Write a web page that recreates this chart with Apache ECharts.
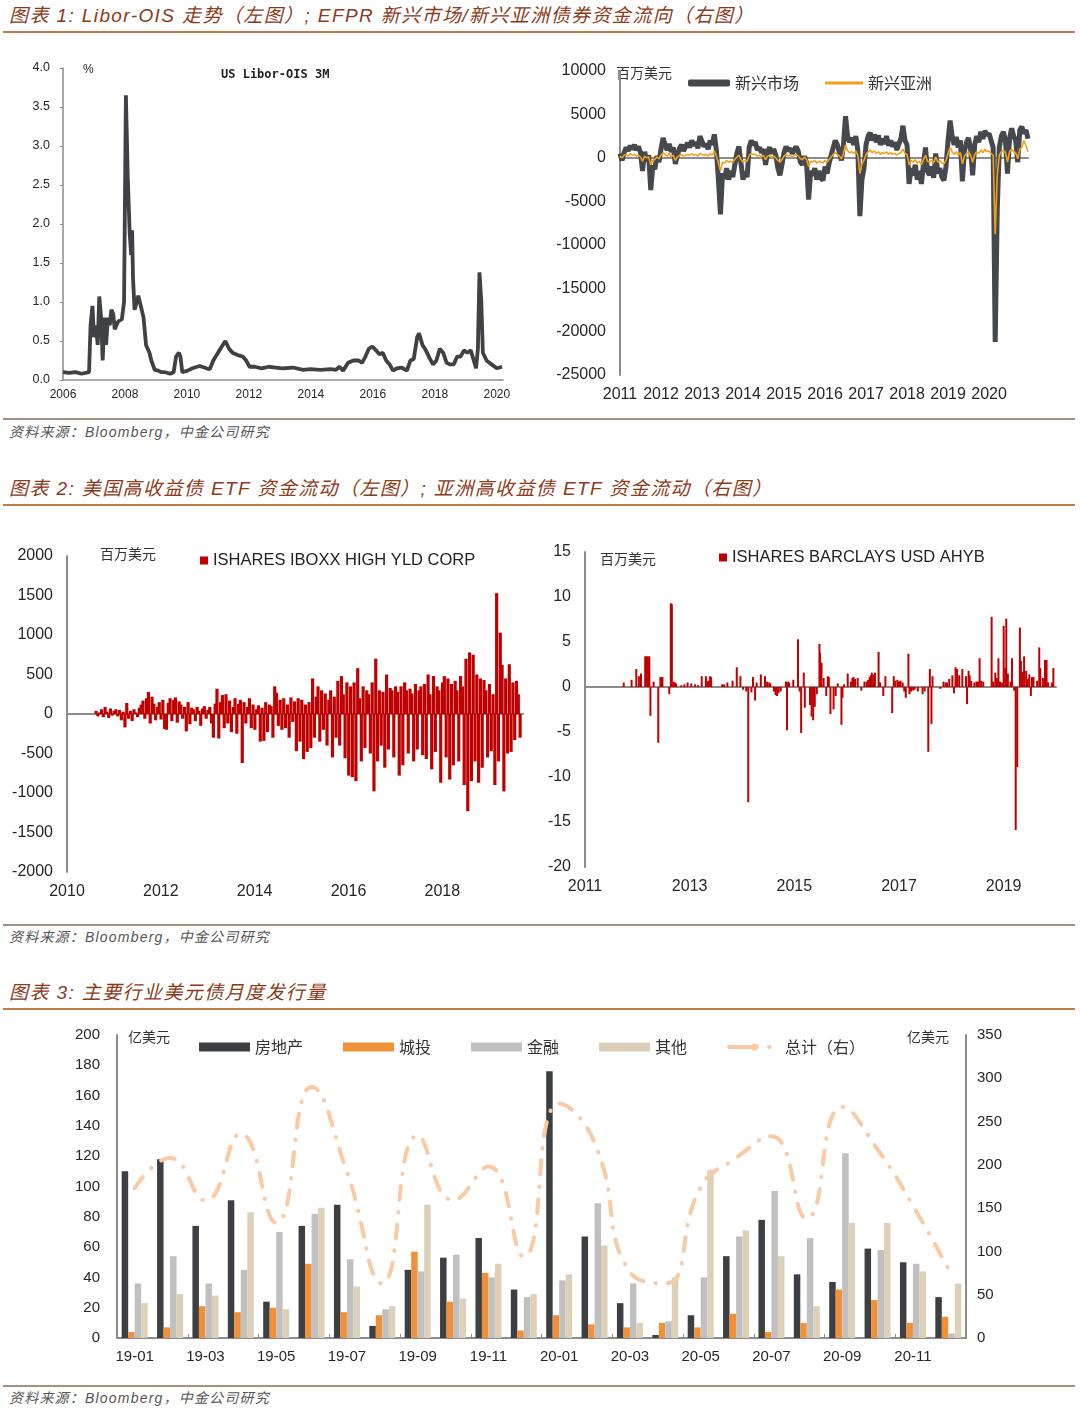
<!DOCTYPE html>
<html><head><meta charset="utf-8">
<script src="https://cdn.jsdelivr.net/npm/echarts@6/dist/echarts.min.js"></script>
<style>
body{margin:0;width:1080px;height:1411px;background:#fff;position:relative;overflow:hidden;font-family:"Liberation Sans","Noto Sans CJK SC",sans-serif;}
.t{position:absolute;left:9px;font-style:italic;color:#8b3a1a;font-size:19px;white-space:nowrap;line-height:22px;letter-spacing:1.4px;}
.rule{position:absolute;left:3px;width:1072px;height:2px;background:#c27a4a;}
.srule{position:absolute;left:3px;width:1072px;height:2px;background:#a89080;}
.s{position:absolute;left:9px;font-style:italic;color:#555;font-size:14px;line-height:16px;white-space:nowrap;letter-spacing:1.2px;}
.c{position:absolute;}
</style></head><body>
<div class="t" style="top:5px">图表 1: Libor-OIS 走势（左图）; EFPR 新兴市场/新兴亚洲债券资金流向（右图）</div>
<div class="rule" style="top:31px"></div>
<div class="srule" style="top:418px"></div>
<div class="s" style="top:424px">资料来源：Bloomberg，中金公司研究</div>
<div class="t" style="top:478px">图表 2: 美国高收益债 ETF 资金流动（左图）; 亚洲高收益债 ETF 资金流动（右图）</div>
<div class="rule" style="top:504px"></div>
<div class="srule" style="top:924px"></div>
<div class="s" style="top:929px">资料来源：Bloomberg，中金公司研究</div>
<div class="t" style="top:982px">图表 3: 主要行业美元债月度发行量</div>
<div class="rule" style="top:1008px"></div>
<div class="srule" style="top:1385px"></div>
<div class="s" style="top:1390px">资料来源：Bloomberg，中金公司研究</div>

<div id="c1" class="c" style="left:0;top:40px;width:540px;height:378px"></div>
<div id="c2" class="c" style="left:540px;top:40px;width:540px;height:378px"></div>
<div id="c3" class="c" style="left:0;top:510px;width:540px;height:414px"></div>
<div id="c4" class="c" style="left:540px;top:510px;width:540px;height:414px"></div>
<div id="c5" class="c" style="left:0;top:1012px;width:1080px;height:372px"></div>
<script>
// ---------- Chart 1: US Libor-OIS 3M (year, %) ----------
const liborOis = [[2006.00,0.10],[2006.20,0.09],[2006.40,0.10],[2006.60,0.08],[2006.84,0.10],[2006.89,0.70],[2006.95,0.95],[2007.00,0.55],[2007.06,0.70],[2007.12,0.45],[2007.17,1.07],[2007.23,0.80],[2007.28,0.25],[2007.34,0.80],[2007.39,0.45],[2007.45,0.80],[2007.51,0.70],[2007.56,0.90],[2007.62,0.85],[2007.67,0.65],[2007.78,0.75],[2007.90,0.78],[2007.97,1.00],[2008.03,3.65],[2008.09,2.60],[2008.15,1.90],[2008.20,1.60],[2008.23,1.92],[2008.26,1.30],[2008.31,0.90],[2008.38,1.00],[2008.43,1.08],[2008.51,0.95],[2008.60,0.80],[2008.68,0.45],[2008.79,0.35],[2008.85,0.25],[2008.96,0.13],[2009.07,0.12],[2009.18,0.10],[2009.29,0.10],[2009.46,0.08],[2009.57,0.10],[2009.65,0.30],[2009.74,0.35],[2009.79,0.30],[2009.85,0.10],[2010.02,0.12],[2010.18,0.15],[2010.41,0.18],[2010.63,0.15],[2010.74,0.14],[2010.85,0.25],[2011.08,0.40],[2011.24,0.50],[2011.36,0.40],[2011.47,0.35],[2011.63,0.32],[2011.80,0.30],[2011.91,0.25],[2012.02,0.17],[2012.19,0.17],[2012.41,0.15],[2012.64,0.17],[2012.86,0.16],[2013.08,0.15],[2013.42,0.16],[2013.75,0.13],[2013.98,0.14],[2014.31,0.13],[2014.65,0.14],[2014.81,0.13],[2014.92,0.17],[2015.04,0.12],[2015.20,0.22],[2015.37,0.25],[2015.54,0.25],[2015.65,0.22],[2015.76,0.30],[2015.87,0.40],[2015.98,0.43],[2016.10,0.38],[2016.21,0.33],[2016.32,0.35],[2016.43,0.25],[2016.54,0.20],[2016.65,0.12],[2016.77,0.15],[2016.93,0.16],[2017.10,0.12],[2017.21,0.25],[2017.32,0.27],[2017.43,0.55],[2017.49,0.60],[2017.60,0.45],[2017.71,0.38],[2017.83,0.28],[2017.94,0.20],[2018.05,0.25],[2018.16,0.40],[2018.27,0.35],[2018.38,0.22],[2018.49,0.20],[2018.61,0.20],[2018.72,0.30],[2018.83,0.30],[2018.94,0.38],[2019.05,0.35],[2019.16,0.38],[2019.28,0.22],[2019.33,0.15],[2019.39,0.40],[2019.44,1.38],[2019.50,1.00],[2019.55,0.35],[2019.67,0.25],[2019.83,0.20],[2020.00,0.15],[2020.17,0.17]];
const liborTicks = [2006,2008,2010,2012,2014,2016,2018,2020];

// ---------- Chart 2: EPFR flows, 20 readings per year from 2011.00 ----------
const epfrStart = 2011, epfrStep = 0.05;
const emFlows = [
 500,-300,600,1200,800,1400,1000,1500,900,1300,600,-1500,700,-400,300,-3700,-900,-1300,200,-500,
 1000,2300,1500,900,1600,700,1200,-700,300,1100,1500,800,1300,1700,1200,2000,1400,1800,1100,2500,
 1900,1300,1600,1000,2000,1500,2700,900,-2500,-6500,-1800,-2400,-1200,-2500,-1500,-2200,-800,500,1300,-600,
 -2500,-1600,-2200,1200,2000,1500,1800,900,1200,600,1000,-800,700,1200,500,1000,300,-1200,-2000,-800,
 600,1300,800,1100,500,900,1300,700,-500,-800,200,-600,-4800,-1500,-2000,-1200,-2500,-1500,-2300,-2600,
 -1000,-1800,-600,300,1200,2000,1500,600,-300,1500,4800,2500,1800,2300,1500,2500,900,-6700,-2500,-1200,
 1500,2500,2900,2000,2700,1800,2600,1500,2200,1600,2500,1400,2000,1300,1800,900,1600,2200,3700,2000,
 1500,-3000,-1200,-2000,-800,-2500,-1500,-3000,-800,1200,-1500,-2000,-1000,-2300,500,-1800,-1200,-2200,-2600,-1000,
 2000,4300,2500,1500,2400,1200,2000,-2700,800,1800,2300,1000,-2000,1500,2500,1800,3000,2200,3100,2600,
 2800,2000,1200,-21200,-6000,1200,2500,3000,2000,-1800,2200,3400,2500,2000,-500,3200,3600,2800,3200,2200];
const asiaFlows = [
 200,0,300,400,200,500,300,400,200,300,100,-400,200,0,100,-800,-300,-200,100,-100,
 300,600,400,200,500,100,300,-300,100,300,400,200,300,400,300,500,300,400,200,500,
 400,300,400,200,500,300,800,200,-600,-1500,-500,-600,-300,-500,-400,-500,-200,100,300,-200,
 -500,-300,-400,300,500,400,400,200,300,100,300,-200,200,300,100,200,0,-300,-500,-200,
 200,400,200,300,100,300,400,200,-100,-200,100,-200,-1000,-400,-500,-300,-600,-400,-500,-600,
 -300,-500,-200,100,400,600,400,200,-100,500,1500,800,600,700,500,800,300,-1800,-700,-300,
 400,700,900,600,800,500,700,400,600,500,700,400,600,400,500,300,500,600,1000,500,
 400,-800,-300,-500,-200,-600,-400,-800,-200,300,-400,-500,-300,-600,100,-500,-300,-600,-700,-300,
 500,1200,700,400,700,300,600,-700,200,500,700,300,-500,400,700,500,900,600,1000,700,
 800,500,300,-8800,-2000,300,700,900,600,-500,700,1000,700,600,-100,1000,1200,2000,1400,700];
const epfrTicks = [2011,2012,2013,2014,2015,2016,2017,2018,2019,2020];

// ---------- Chart 3: ISHARES IBOXX HIGH YLD CORP, biweekly from 2010.62 ----------
const hygStart = 2010.62, hygPerYear = 26;
const hygFlows = [
 40,-30,20,60,-40,90,30,-50,70,-20,40,60,-30,
 50,-80,30,-170,140,-60,40,-90,60,20,-40,80,120,
 170,-60,200,280,-120,220,130,-80,90,150,-70,180,-190,
 -200,140,200,-90,180,210,-110,160,120,-60,90,-220,150,
 -130,80,60,-90,90,40,-150,70,100,-60,50,90,-120,
 -300,130,320,-310,150,240,-180,250,-120,170,-230,90,200,
 -250,130,180,-620,150,-120,90,200,-180,120,-200,60,110,
 -350,80,-340,150,-230,120,100,-300,350,270,-150,180,-200,
 200,-180,120,-300,210,-100,160,-470,200,-350,180,-570,120,
 -480,150,-430,450,-300,220,350,-350,300,-200,260,-400,180,
 300,-550,220,-300,420,-400,480,250,-560,400,-780,350,-800,
 400,-850,580,200,-600,350,-430,300,250,-500,400,-980,700,
 -600,300,-400,280,-680,500,-450,330,300,-550,350,280,-780,
 350,-650,400,300,-500,320,260,-600,380,-450,300,350,-520,
 380,-570,500,250,-700,480,-480,350,300,-870,400,480,-550,
 450,-830,380,-650,420,300,-600,480,350,-900,700,-1230,780,
 -850,750,-600,500,-870,450,-680,430,300,-550,380,-470,250,
 -900,1530,-600,1030,620,-980,450,-500,630,-480,400,-330,420,250,-300];
const hygTicks = [2010,2012,2014,2016,2018];

// ---------- Chart 4: ISHARES BARCLAYS USD AHYB (year, flow) ----------
const ahybFlows = [[2011.74,0.5],[2011.89,0.8],[2011.98,2.0],[2012.03,1.2],[2012.07,1.5],[2012.15,3.4],[2012.17,3.4],[2012.19,3.4],[2012.21,3.4],[2012.23,3.4],[2012.25,-3.2],[2012.31,0.6],[2012.40,-6.2],[2012.44,1.1],[2012.46,1.1],[2012.48,1.1],[2012.61,-0.8],[2012.64,9.3],[2012.66,9.2],[2012.69,0.6],[2012.72,0.5],[2012.74,0.4],[2012.84,0.2],[2012.90,0.3],[2012.96,0.5],[2013.03,0.4],[2013.10,0.3],[2013.16,0.2],[2013.23,1.2],[2013.31,1.2],[2013.34,0.6],[2013.36,0.7],[2013.39,1.2],[2013.41,1.1],[2013.62,0.3],[2013.66,0.3],[2013.72,0.5],[2013.82,0.7],[2013.90,2.2],[2013.97,1.2],[2014.02,-0.3],[2014.08,-0.5],[2014.12,-12.8],[2014.18,-0.6],[2014.21,1.1],[2014.25,-1.5],[2014.28,0.5],[2014.36,1.4],[2014.44,1.2],[2014.48,0.6],[2014.52,0.5],[2014.54,0.4],[2014.61,-0.5],[2014.64,-0.9],[2014.67,-1.0],[2014.70,-0.7],[2014.74,-0.5],[2014.84,0.6],[2014.86,-4.8],[2014.88,0.6],[2014.90,0.5],[2014.98,0.8],[2015.07,5.3],[2015.10,-0.5],[2015.13,-5.1],[2015.18,1.6],[2015.20,-2.3],[2015.30,-2.0],[2015.33,-3.3],[2015.36,-3.7],[2015.39,-2.2],[2015.43,-0.8],[2015.48,4.8],[2015.49,3.8],[2015.52,2.7],[2015.56,1.0],[2015.61,-1.0],[2015.64,1.2],[2015.66,1.1],[2015.69,-3.0],[2015.75,-2.5],[2015.79,-1.0],[2015.83,0.4],[2015.90,-4.2],[2015.92,-1.2],[2015.95,0.3],[2016.02,1.5],[2016.08,0.6],[2016.11,1.0],[2016.13,1.1],[2016.16,0.9],[2016.21,1.0],[2016.28,-0.4],[2016.34,0.6],[2016.38,0.6],[2016.41,0.8],[2016.44,1.1],[2016.46,1.3],[2016.48,1.6],[2016.51,1.4],[2016.54,1.6],[2016.61,3.9],[2016.64,0.5],[2016.70,-1.0],[2016.74,1.2],[2016.87,-2.9],[2016.90,1.2],[2016.93,0.7],[2016.97,0.8],[2017.00,0.6],[2017.03,0.7],[2017.07,0.5],[2017.10,-0.5],[2017.13,-1.2],[2017.18,3.7],[2017.20,-0.8],[2017.23,-0.5],[2017.27,-0.4],[2017.30,-0.3],[2017.36,-0.5],[2017.45,-0.8],[2017.49,-0.5],[2017.56,-7.2],[2017.59,2.0],[2017.62,-4.1],[2017.64,1.2],[2017.79,-0.2],[2017.85,0.6],[2017.89,0.5],[2017.92,0.5],[2017.96,0.9],[2018.02,1.3],[2018.05,-0.7],[2018.08,2.2],[2018.11,2.0],[2018.15,1.3],[2018.21,2.0],[2018.28,1.2],[2018.30,-1.9],[2018.33,1.8],[2018.35,1.3],[2018.38,0.7],[2018.44,0.5],[2018.48,0.6],[2018.51,0.6],[2018.54,3.2],[2018.57,0.7],[2018.61,0.6],[2018.77,7.8],[2018.80,0.6],[2018.84,1.6],[2018.87,1.0],[2018.90,3.2],[2018.93,0.6],[2018.97,0.5],[2019.00,6.8],[2019.03,2.1],[2019.05,7.6],[2019.08,1.5],[2019.13,0.6],[2019.16,3.2],[2019.20,-0.4],[2019.23,-15.9],[2019.26,-8.9],[2019.31,6.6],[2019.33,2.9],[2019.36,1.7],[2019.39,3.4],[2019.43,1.8],[2019.46,0.9],[2019.49,1.4],[2019.52,-1.0],[2019.54,1.1],[2019.57,1.1],[2019.64,0.7],[2019.68,4.4],[2019.70,2.1],[2019.75,1.0],[2019.79,3.0],[2019.82,3.0],[2019.85,0.5],[2019.92,0.5],[2019.95,2.1]];
const ahybTicks = [2011,2013,2015,2017,2019];

// ---------- Chart 5: monthly USD bond issuance (亿美元) ----------
const months = ['19-01','19-02','19-03','19-04','19-05','19-06','19-07','19-08','19-09','19-10','19-11','19-12','20-01','20-02','20-03','20-04','20-05','20-06','20-07','20-08','20-09','20-10','20-11','20-12'];
const realEstate = [110,118,74,91,24,74,88,8,45,53,66,32,176,67,23,2,15,54,78,42,37,59,50,27];
const lgfv = [4,7,21,17,20,49,17,15,57,24,43,5,15,9,7,10,7,16,4,10,32,25,10,14];
const financial = [36,54,36,45,70,82,52,19,44,55,40,27,38,89,36,11,40,67,97,66,122,58,49,3];
const others = [23,29,28,83,19,86,34,21,88,26,49,29,42,61,10,40,111,71,54,21,76,76,44,36];
const totalRight = [173,208,159,236,133,290,192,63,234,159,198,94,271,226,76,63,174,208,233,138,267,218,153,80];

// ---------- shared styles ----------
const LAT = '"Liberation Sans", Arial, sans-serif';
const CJK = '"Noto Sans CJK SC", sans-serif';
const axisGrey = '#8c8c8c';
const txt = '#262626';

function hiddenZeroAxis(min, max){
  return {type:'value', min:min, max:max, axisLine:{show:true, onZero:true, lineStyle:{color:axisGrey, width:2}},
    axisTick:{show:false}, axisLabel:{show:false}, splitLine:{show:false}};
}
function labelAxis(min, max, ticks, size, margin){
  return {type:'value', min:min, max:max, axisLine:{show:false, onZero:false}, axisTick:{show:false}, splitLine:{show:false},
    axisLabel:{customValues:ticks, formatter:v=>String(v), fontFamily:LAT, fontSize:size, color:txt, margin:margin}};
}

// Chart 1
const c1 = echarts.init(document.getElementById('c1'), null, {renderer:'canvas'});
c1.setOption({
  animation:false,
  grid:{left:63, right:37, top:28, bottom:38},
  xAxis:{type:'value', min:2006, max:2020.2, axisLine:{lineStyle:{color:axisGrey, width:1.5}}, axisTick:{show:false}, splitLine:{show:false},
    axisLabel:{customValues:liborTicks, formatter:v=>String(v), fontFamily:LAT, fontSize:12, color:txt, margin:9}},
  yAxis:{type:'value', min:0, max:4, interval:0.5, axisLine:{show:true, lineStyle:{color:axisGrey, width:1.5}}, axisTick:{show:true, length:3, lineStyle:{color:axisGrey}}, splitLine:{show:false},
    axisLabel:{formatter:v=>v.toFixed(1), fontFamily:LAT, fontSize:12.5, color:txt, margin:13}},
  graphic:[
    {type:'text', left:83, top:24, style:{text:'%', font:'12px '+LAT, fill:txt}},
    {type:'text', left:221, top:29, style:{text:'US Libor-OIS 3M', font:'bold 12px "DejaVu Sans Mono", monospace', fill:'#222'}}
  ],
  series:[{type:'line', data:liborOis, symbol:'none', lineStyle:{color:'#3f4144', width:3.8}, itemStyle:{color:'#3f4144'}}]
});

// Chart 2
const emData = emFlows.map((v,i)=>[epfrStart + i*epfrStep, v]);
const asiaData = asiaFlows.map((v,i)=>[epfrStart + i*epfrStep, v]);
const c2 = echarts.init(document.getElementById('c2'));
c2.setOption({
  animation:false,
  grid:{left:80, right:52, top:31, bottom:43},
  xAxis:[labelAxis(2011, 2020.95, epfrTicks, 16, 12), hiddenZeroAxis(2011, 2020.95)],
  yAxis:{type:'value', min:-25000, max:10000, interval:5000, axisLine:{show:true, lineStyle:{color:axisGrey, width:2}}, axisTick:{show:false}, splitLine:{show:false},
    axisLabel:{formatter:v=>String(v), fontFamily:LAT, fontSize:16, color:txt, margin:14}},
  legend:[
    {left:143, top:30, itemWidth:42, itemHeight:7, icon:'roundRect', data:['新兴市场'], textStyle:{fontFamily:CJK, fontSize:16, color:'#333'}},
    {left:280, top:30, itemWidth:38, itemHeight:3, icon:'rect', data:['新兴亚洲'], textStyle:{fontFamily:CJK, fontSize:16, color:'#333'}}
  ],
  graphic:[{type:'text', left:76, top:26, style:{text:'百万美元', font:'14px '+CJK, fill:'#333'}}],
  series:[
    {name:'新兴市场', type:'line', data:emData, symbol:'none', lineStyle:{color:'#45484c', width:5}, itemStyle:{color:'#45484c'}},
    {name:'新兴亚洲', type:'line', data:asiaData, symbol:'none', lineStyle:{color:'#f2a01c', width:1.6}, itemStyle:{color:'#f2a01c'}}
  ]
});

// Chart 3
const hygData = hygFlows.map((v,i)=>[hygStart + i/hygPerYear, v]);
const c3 = echarts.init(document.getElementById('c3'));
c3.setOption({
  animation:false,
  grid:{left:67, right:17, top:46, bottom:52},
  xAxis:[labelAxis(2010, 2019.72, hygTicks, 16, 12), hiddenZeroAxis(2010, 2019.72)],
  yAxis:{type:'value', min:-2000, max:2000, interval:500, axisLine:{show:true, lineStyle:{color:axisGrey, width:2}}, axisTick:{show:false}, splitLine:{show:false},
    axisLabel:{formatter:v=>String(v), fontFamily:LAT, fontSize:16, color:txt, margin:14}},
  legend:{left:195, top:37, itemWidth:8, itemHeight:8, icon:'rect', data:['ISHARES IBOXX HIGH YLD CORP'], textStyle:{fontFamily:LAT, fontSize:16.5, color:'#222'}},
  graphic:[{type:'text', left:100, top:37, style:{text:'百万美元', font:'14px '+CJK, fill:'#333'}}],
  series:[{name:'ISHARES IBOXX HIGH YLD CORP', type:'bar', data:hygData, barWidth:3.2, itemStyle:{color:'#c00000'}}]
});

// Chart 4
const c4 = echarts.init(document.getElementById('c4'));
c4.setOption({
  animation:false,
  grid:{left:45, right:24, top:42, bottom:57},
  xAxis:[labelAxis(2011, 2020, ahybTicks, 16, 12), hiddenZeroAxis(2011, 2020)],
  yAxis:{type:'value', min:-20, max:15, interval:5, axisLine:{show:true, lineStyle:{color:axisGrey, width:2}}, axisTick:{show:false}, splitLine:{show:false},
    axisLabel:{formatter:v=>String(v), fontFamily:LAT, fontSize:16, color:txt, margin:14}},
  legend:{left:174, top:34, itemWidth:8, itemHeight:8, icon:'rect', data:['ISHARES BARCLAYS USD AHYB'], textStyle:{fontFamily:LAT, fontSize:16.5, color:'#222'}},
  graphic:[{type:'text', left:60, top:42, style:{text:'百万美元', font:'14px '+CJK, fill:'#333'}}],
  series:[{name:'ISHARES BARCLAYS USD AHYB', type:'bar', data:ahybFlows, barWidth:2, itemStyle:{color:'#c00000'}}]
});

// Chart 5
const c5 = echarts.init(document.getElementById('c5'));
const barStyle = (name, data, color)=>({name:name, type:'bar', data:data, barWidth:6.5, barGap:'0%', itemStyle:{color:color}});
c5.setOption({
  animation:false,
  grid:{left:117, right:114, top:23, bottom:46},
  xAxis:{type:'category', data:months, axisLine:{lineStyle:{color:axisGrey, width:2}},
    axisTick:{show:true, interval:1, inside:true, length:4, lineStyle:{color:axisGrey}},
    axisLabel:{interval:1, fontFamily:LAT, fontSize:15, color:txt, margin:11}},
  yAxis:[
    {type:'value', min:0, max:200, interval:20, axisLine:{show:true, lineStyle:{color:axisGrey, width:2}}, axisTick:{show:false}, splitLine:{show:false},
      axisLabel:{fontFamily:LAT, fontSize:15, color:txt, margin:17}},
    {type:'value', min:0, max:350, interval:50, position:'right', axisLine:{show:true, lineStyle:{color:axisGrey, width:2}}, axisTick:{show:false}, splitLine:{show:false},
      axisLabel:{fontFamily:LAT, fontSize:15, color:txt, margin:11}}
  ],
  legend:{left:194, top:22, itemWidth:51, itemHeight:9, itemGap:40, textStyle:{fontFamily:CJK, fontSize:16, color:'#333'},
    data:[{name:'房地产', icon:'rect'},{name:'城投', icon:'rect'},{name:'金融', icon:'rect'},{name:'其他', icon:'rect'},
      {name:'总计（右）', lineStyle:{type:[28,12,0.5,14], cap:'round', width:4}}]},
  graphic:[
    {type:'text', left:128, top:18, style:{text:'亿美元', font:'14px '+CJK, fill:'#333'}},
    {type:'text', left:907, top:18, style:{text:'亿美元', font:'14px '+CJK, fill:'#333'}}
  ],
  series:[
    barStyle('房地产', realEstate, '#3d3f42'),
    barStyle('城投', lgfv, '#f0913a'),
    barStyle('金融', financial, '#c0c0c0'),
    barStyle('其他', others, '#ddd0b8'),
    {name:'总计（右）', type:'line', yAxisIndex:1, data:totalRight, smooth:0.5, symbol:'none', z:5,
      lineStyle:{color:'#f9caa4', width:4, type:[14,12,0.5,12], cap:'round'}, itemStyle:{color:'#f9caa4'}}
  ]
});
</script>
</body></html>
